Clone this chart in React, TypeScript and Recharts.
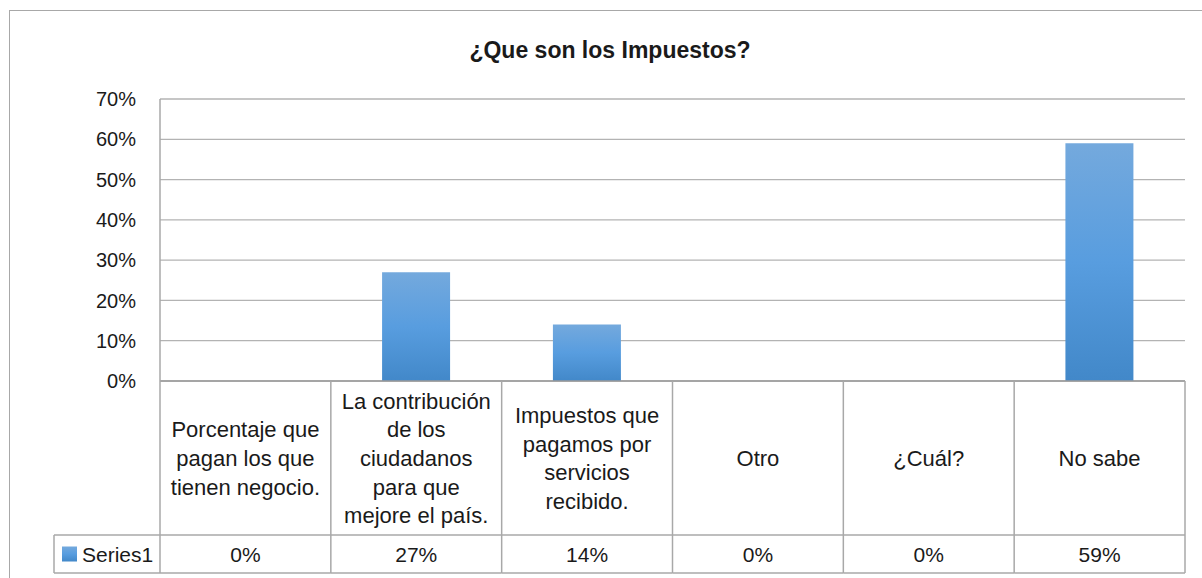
import React from 'react';
import { BarChart, Bar, XAxis, YAxis, CartesianGrid } from 'recharts';

const title = '¿Que son los Impuestos?';
const seriesName = 'Series1';
const categories = [
  'Porcentaje que\npagan los que\ntienen negocio.',
  'La contribución\nde los\nciudadanos\npara que\nmejore el país.',
  'Impuestos que\npagamos por\nservicios\nrecibido.',
  'Otro',
  '¿Cuál?',
  'No sabe',
];
const values = [0, 0.27, 0.14, 0, 0, 0.59];
const valueLabels = ['0%', '27%', '14%', '0%', '0%', '59%'];
const yTicks = [0, 0.1, 0.2, 0.3, 0.4, 0.5, 0.6, 0.7];

const data = categories.map((c, i) => ({ name: c, value: values[i] }));

const W = 1202;
const H = 578;
const Y_AXIS_W = 160;
const RIGHT = 17;
const TOP = 99;
const X_AXIS_H = 197;
const PLOT_BOTTOM = H - X_AXIS_H;
const COL_W = (W - Y_AXIS_W - RIGHT) / categories.length;
const ROW_TOP = 535;
const ROW_BOTTOM = 573;
const HEADER_LEFT = 54;
const LINE = '#a8a8a8';
const TEXT = '#1a1a1a';
const FONT = '"Liberation Sans", Arial, sans-serif';

const TableTick = (props: any) => {
  const { payload } = props;
  const index: number =
    props.index ?? payload.index ?? categories.indexOf(payload.value);
  const cx = payload.coordinate;
  const left = cx - COL_W / 2;
  const right = cx + COL_W / 2;
  const lines = String(payload.value).split('\n');
  const lh = 28.7;
  const midY = (PLOT_BOTTOM + ROW_TOP) / 2;
  const firstY = midY - ((lines.length - 1) * lh) / 2;
  const rowMid = (ROW_TOP + ROW_BOTTOM) / 2;
  return (
    <g>
      {index === 0 && (
        <g>
          <line x1={left} y1={PLOT_BOTTOM} x2={left} y2={ROW_BOTTOM} stroke={LINE} strokeWidth={1.5} />
          <line x1={HEADER_LEFT} y1={ROW_TOP} x2={left} y2={ROW_TOP} stroke={LINE} strokeWidth={1.5} />
          <line x1={HEADER_LEFT} y1={ROW_BOTTOM} x2={left} y2={ROW_BOTTOM} stroke={LINE} strokeWidth={1.5} />
          <line x1={HEADER_LEFT} y1={ROW_TOP} x2={HEADER_LEFT} y2={ROW_BOTTOM} stroke={LINE} strokeWidth={1.5} />
          <rect x={62} y={rowMid - 7.5} width={15} height={15} fill="url(#barGrad)" />
          <text x={82} y={rowMid} dominantBaseline="central" fontSize={21} fill={TEXT} fontFamily={FONT}>
            {seriesName}
          </text>
        </g>
      )}
      <line x1={right} y1={PLOT_BOTTOM} x2={right} y2={ROW_BOTTOM} stroke={LINE} strokeWidth={1.5} />
      <line x1={left} y1={ROW_TOP} x2={right} y2={ROW_TOP} stroke={LINE} strokeWidth={1.5} />
      <line x1={left} y1={ROW_BOTTOM} x2={right} y2={ROW_BOTTOM} stroke={LINE} strokeWidth={1.5} />
      <text textAnchor="middle" dominantBaseline="central" fontSize={22} fill={TEXT} fontFamily={FONT}>
        {lines.map((l, i) => (
          <tspan key={i} x={cx} y={firstY + i * lh}>
            {l}
          </tspan>
        ))}
      </text>
      <text x={cx} y={rowMid} textAnchor="middle" dominantBaseline="central" fontSize={21} fill={TEXT} fontFamily={FONT}>
        {valueLabels[index]}
      </text>
    </g>
  );
};

export default function App() {
  return (
    <div style={{ position: 'absolute', left: 0, top: 0, width: W, height: H, overflow: 'hidden', background: '#fff' }}>
      <svg width={0} height={0} style={{ position: 'absolute' }}>
        <defs>
          <linearGradient id="barGrad" x1="0" y1="0" x2="0" y2="1">
            <stop offset="0%" stopColor="#74a9dd" />
            <stop offset="50%" stopColor="#589ddf" />
            <stop offset="100%" stopColor="#4288c9" />
          </linearGradient>
        </defs>
      </svg>
      <div
        style={{
          position: 'absolute',
          left: 9,
          top: 10,
          width: W,
          height: H,
          borderTop: '1.5px solid #a8a8a8',
          borderLeft: '1.5px solid #a8a8a8',
        }}
      />
      <div
        style={{
          position: 'absolute',
          left: 310,
          top: 38.5,
          width: 600,
          textAlign: 'center',
          fontFamily: FONT,
          fontWeight: 'bold',
          fontSize: 23,
          lineHeight: '23px',
          color: TEXT,
        }}
      >
        {title}
      </div>
      <div style={{ position: 'absolute', left: 0, top: 0 }}>
        <BarChart
          width={W}
          height={H}
          data={data}
          margin={{ top: TOP, right: RIGHT, bottom: 0, left: 0 }}
          barCategoryGap="30%"
        >
          <CartesianGrid horizontal vertical={false} stroke="#b3b3b3" strokeWidth={1.3} />
          <XAxis
            dataKey="name"
            interval={0}
            height={X_AXIS_H}
            tickLine={false}
            tickSize={0}
            tickMargin={0}
            axisLine={{ stroke: '#9a9a9a', strokeWidth: 1.5 }}
            tick={<TableTick />}
          />
          <YAxis
            type="number"
            domain={[0, 0.7]}
            ticks={yTicks}
            width={Y_AXIS_W}
            tickLine={false}
            tickSize={0}
            tickMargin={24}
            axisLine={{ stroke: LINE, strokeWidth: 1.5 }}
            tickFormatter={(v: number) => `${Math.round(v * 100)}%`}
            tick={{ fontSize: 20, fill: TEXT, fontFamily: FONT }}
          />
          <Bar dataKey="value" fill="url(#barGrad)" isAnimationActive={false} />
        </BarChart>
      </div>
    </div>
  );
}
